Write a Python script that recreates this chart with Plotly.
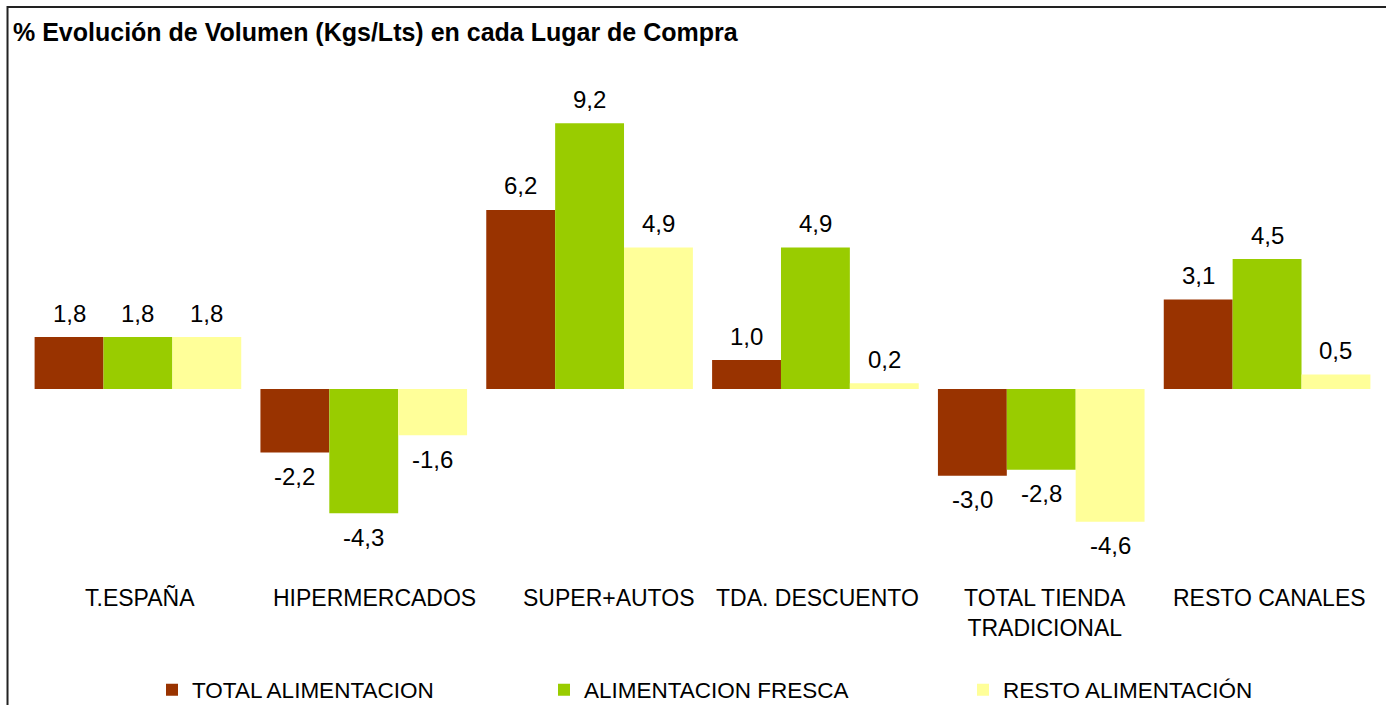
import plotly.graph_objects as go

# Volume change (%) by purchase channel
canales = ["T.ESPAÑA", "HIPERMERCADOS", "SUPER+AUTOS", "TDA. DESCUENTO",
           "TOTAL TIENDA<br>TRADICIONAL", "RESTO CANALES"]
total_alimentacion = [1.8, -2.2, 6.2, 1.0, -3.0, 3.1]
alimentacion_fresca = [1.8, -4.3, 9.2, 4.9, -2.8, 4.5]
resto_alimentacion = [1.8, -1.6, 4.9, 0.2, -4.6, 0.5]

series = [
    ("TOTAL ALIMENTACION", total_alimentacion, "#993300", "legend"),
    ("ALIMENTACION FRESCA", alimentacion_fresca, "#99CC00", "legend2"),
    ("RESTO ALIMENTACIÓN", resto_alimentacion, "#FFFF99", "legend3"),
]

FONT = "Liberation Sans, Arial, sans-serif"
W, H = 1386, 705
ML, MR, MT, MB = 24.5, 5.5, 70, 127
BARGAP = 0.085
PX_PER_UNIT = 28.88
ZERO_PX = 389
# horizontal nudge (px) of each category caption
LABEL_SHIFT = [2, 11, 19, 2, 4, 2]

fig = go.Figure()
for name, vals, color, leg in series:
    fig.add_trace(go.Bar(
        x=canales, y=vals, name=name, marker_color=color,
        marker_line_width=0, legend=leg,
    ))

plot_h = H - MT - MB
y_top = (ZERO_PX - MT) / PX_PER_UNIT
y_bot = -(MT + plot_h - ZERO_PX) / PX_PER_UNIT
px_to_paper_x = lambda p: (p - ML) / (W - ML - MR)
px_to_paper_y = lambda p: (MT + plot_h - p) / plot_h

# value labels above positive bars / below negative bars
bw = (1 - BARGAP) / len(series)
annotations = []
for k, (name, vals, color, leg) in enumerate(series):
    off = (k - (len(series) - 1) / 2) * bw
    for i, v in enumerate(vals):
        annotations.append(dict(
            x=i + off, y=v, xref="x", yref="y",
            text=f"{v:.1f}".replace(".", ","),
            showarrow=False, yshift=24 if v >= 0 else -24,
            font=dict(family=FONT, size=24, color="#000000"),
        ))

# category captions under the plot
for i, cat in enumerate(canales):
    annotations.append(dict(
        x=i, xref="x", y=px_to_paper_y(583), yref="paper",
        xanchor="center", yanchor="top", text=cat, showarrow=False,
        xshift=LABEL_SHIFT[i],
        font=dict(family=FONT, size=23, color="#000000"),
    ))

# outer frame of the chart area
shapes = [dict(
    type="rect", xref="paper", yref="paper",
    x0=px_to_paper_x(7), x1=px_to_paper_x(W + 20),
    y0=px_to_paper_y(H + 20), y1=px_to_paper_y(7),
    line=dict(color="#222222", width=2), fillcolor="rgba(0,0,0,0)",
    layer="above",
)]

legend_x = {"legend": 152, "legend2": 544, "legend3": 963}
legend_cfg = {}
for key, xp in legend_x.items():
    legend_cfg[key] = dict(
        xref="container", yref="container",
        x=xp / W, y=1 - 690 / H, xanchor="left", yanchor="middle",
        orientation="h", font=dict(family=FONT, size=22.5, color="#000000"),
        bgcolor="rgba(0,0,0,0)", borderwidth=0,
    )

fig.update_layout(
    width=W, height=H,
    margin=dict(l=ML, r=MR, t=MT, b=MB, autoexpand=False),
    paper_bgcolor="white", plot_bgcolor="white",
    barmode="group", bargap=BARGAP, bargroupgap=0,
    showlegend=True,
    title=dict(
        text="<b>% Evolución de Volumen (Kgs/Lts) en cada Lugar de Compra</b>",
        xref="container", yref="container",
        x=13 / W, y=1 - 32 / H, xanchor="left", yanchor="middle",
        font=dict(family=FONT, size=25, color="#000000"),
    ),
    xaxis=dict(
        showgrid=False, zeroline=False, showline=False, ticks="",
        showticklabels=False,
    ),
    yaxis=dict(
        range=[y_bot, y_top], showgrid=False, zeroline=False,
        showline=False, showticklabels=False, ticks="",
    ),
    annotations=annotations,
    shapes=shapes,
    **legend_cfg,
)

fig.write_html("out.html")
